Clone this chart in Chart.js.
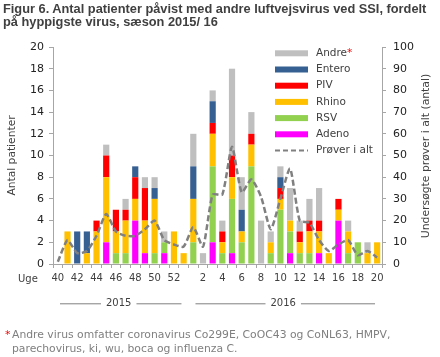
<!DOCTYPE html>
<html>
<head>
<meta charset="utf-8">
<script src="https://cdn.jsdelivr.net/npm/chart.js@4.4.1/dist/chart.umd.min.js"></script>
<style>
  html, body { margin: 0; padding: 0; background: #ffffff; }
  #wrap { position: relative; width: 440px; height: 357px; overflow: hidden; }
  #c { position: absolute; left: 0; top: 0; }
  #title { position: absolute; left: 3px; top: 2px; font-family: "Liberation Sans", Arial, sans-serif; font-weight: bold; font-size: 12.8px; line-height: 13.4px; color: #404040; white-space: nowrap; }
  #note { position: absolute; left: 12px; top: 328px; font-family: "DejaVu Sans", Verdana, sans-serif; font-size: 10.8px; line-height: 14.3px; color: #7f7f7f; white-space: nowrap; }
  #note .ast { position: absolute; left: -7px; top: 0; color: #ff0000; }
</style>
</head>
<body>
<div id="wrap">
  <canvas id="c" width="440" height="357"></canvas>
  <div id="title">Figur 6. Antal patienter påvist med andre luftvejsvirus ved SSI, fordelt<br>på hyppigste virus, sæson 2015/ 16</div>
  <div id="note"><span class="ast">*</span>Andre virus omfatter coronavirus Co299E, CoOC43 og CoNL63, HMPV,<br>parechovirus, ki, wu, boca og influenza C.</div>
</div>
<script>
// ---- data ----
const weeks    = [40,41,42,43,44,45,46,47,48,49,50,51,52,53, 1, 2, 3, 4, 5, 6, 7, 8, 9,10,11,12,13,14,15,16,17,18,19,20];
const weekYear = ['2015','2015','2015','2015','2015','2015','2015','2015','2015','2015','2015','2015','2015','2015',
                  '2016','2016','2016','2016','2016','2016','2016','2016','2016','2016','2016','2016','2016','2016','2016','2016','2016','2016','2016','2016'];
const adeno    = [0,0,0,0,0,2,0,0,4,1,0,1,0,0, 0,0,2,0,1,0,0,0,0,0,1,0,0,1,0,4,0,0,0,0];
const rsv      = [0,0,0,0,0,0,1,1,0,0,1,1,0,0, 2,0,7,1,5,2,9,0,1,5,2,1,1,0,0,0,1,2,0,0];
const rhino    = [0,3,0,1,3,6,2,3,2,3,5,0,3,1, 4,0,3,1,2,1,2,0,1,1,1,1,2,2,1,1,2,0,1,2];
const piv      = [0,0,0,0,1,2,2,1,2,3,0,0,0,0, 0,0,1,1,2,0,1,0,0,1,0,1,1,1,0,1,0,0,0,0];
const entero   = [0,0,3,2,0,0,0,0,1,0,1,0,0,0, 3,0,2,0,0,2,0,0,0,1,0,0,0,0,0,0,0,0,0,0];
const andre    = [0,0,0,0,0,1,0,1,0,1,1,1,0,0, 3,1,1,1,8,3,2,4,1,1,3,1,2,3,0,0,1,0,1,0];
const proever  = [1,11,5,6,13,23,15,13,13,16,20,11,9,8, 17,8,32,32,54,33,39,31,16,30,44,20,19,11,6,9,11,4,6,3];
const leftTitle  = 'Antal patienter';
const rightTitle = 'Undersøgte prøver i alt (antal)';
const xTitle     = 'Uge';

const FONT = "'DejaVu Sans', Verdana, sans-serif";
Chart.defaults.font.family = FONT;

const barDs = (label, data, color) => ({
  type: 'bar', label, data, backgroundColor: color, borderWidth: 0,
  barPercentage: 0.64, categoryPercentage: 1.0, yAxisID: 'y', order: 1
});

const datasets = [
  barDs('Adeno',  adeno,  '#ff00ff'),
  barDs('RSV',    rsv,    '#92d050'),
  barDs('Rhino',  rhino,  '#ffc000'),
  barDs('PIV',    piv,    '#ff0000'),
  barDs('Entero', entero, '#376092'),
  barDs('Andre',  andre,  '#bfbfbf'),
  { type: 'line', label: 'Prøver i alt', data: proever, yAxisID: 'y2',
    borderColor: '#808080', borderWidth: 2.5, borderDash: [6, 3], pointRadius: 0,
    tension: 0.2, fill: false, order: 0 }
];

const overlay = {
  id: 'overlay',
  afterDraw(chart) {
    const ctx = chart.ctx;
    const xs = chart.scales.x;
    ctx.save();
    // legend
    const bars = chart.data.datasets.filter(d => d.type === 'bar').slice().reverse();
    const lines = chart.data.datasets.filter(d => d.type === 'line');
    const items = bars.concat(lines);
    ctx.font = '10.5px ' + FONT;
    ctx.textBaseline = 'middle';
    ctx.textAlign = 'left';
    items.forEach((ds, k) => {
      const y = 53.3 + k * 16.2;
      if (ds.type === 'line') {
        ctx.strokeStyle = ds.borderColor; ctx.lineWidth = 2; ctx.setLineDash([5, 3]);
        ctx.beginPath(); ctx.moveTo(275, y); ctx.lineTo(308, y); ctx.stroke();
        ctx.setLineDash([]);
      } else {
        ctx.fillStyle = ds.backgroundColor; ctx.fillRect(275, y - 3, 33, 6);
      }
      ctx.fillStyle = '#404040';
      ctx.fillText(ds.label, 316, y);
      if (ds.label === 'Andre') {
        const w = ctx.measureText(ds.label).width;
        ctx.fillStyle = '#ff0000';
        ctx.fillText('*', 316 + w, y);
      }
    });
    // right axis title (reads bottom to top)
    ctx.save();
    ctx.font = '10.8px ' + FONT;
    ctx.fillStyle = '#404040';
    ctx.translate(426, 156);
    ctx.rotate(-Math.PI / 2);
    ctx.textAlign = 'center';
    ctx.textBaseline = 'middle';
    ctx.fillText(rightTitle, 0, 0);
    ctx.restore();
    // "Uge"
    ctx.font = '10px ' + FONT;
    ctx.fillStyle = '#404040';
    ctx.textAlign = 'left';
    ctx.textBaseline = 'middle';
    ctx.fillText(xTitle, 18, 279);
    // year groups
    const half = (xs.getPixelForValue(1) - xs.getPixelForValue(0)) / 2;
    const groups = [];
    weekYear.forEach((yr, i) => {
      const g = groups[groups.length - 1];
      if (g && g.yr === yr) g.last = i; else groups.push({ yr, first: i, last: i });
    });
    const yy = 303.3;
    groups.forEach(g => {
      const l = xs.getPixelForValue(g.first) - half + 7;
      const r = xs.getPixelForValue(g.last) + half - 7;
      const cx = (l + r) / 2 - 2;
      const tw = ctx.measureText(g.yr).width;
      ctx.fillStyle = '#404040';
      ctx.textAlign = 'center';
      ctx.fillText(g.yr, cx, yy);
      ctx.strokeStyle = '#808080'; ctx.lineWidth = 1;
      ctx.beginPath();
      ctx.moveTo(l, yy + 0.5); ctx.lineTo(cx - tw / 2 - 5, yy + 0.5);
      ctx.moveTo(cx + tw / 2 + 5, yy + 0.5); ctx.lineTo(r, yy + 0.5);
      ctx.stroke();
    });
    ctx.restore();
  }
};

new Chart(document.getElementById('c'), {
  data: { labels: weeks.map(String), datasets },
  options: {
    responsive: false,
    animation: false,
    events: [],
    layout: { padding: { top: 47, left: 0, right: 0, bottom: 0 } },
    plugins: { legend: { display: false }, tooltip: { enabled: false }, title: { display: false } },
    scales: {
      x: {
        type: 'category', stacked: true, offset: true,
        grid: { offset: true, drawOnChartArea: false, drawTicks: true, tickLength: 4, color: '#a6a6a6' },
        border: { color: '#a6a6a6' },
        ticks: {
          autoSkip: false, maxRotation: 0, minRotation: 0, padding: 4, color: '#404040',
          font: { size: 10 },
          callback: (v, i) => (weeks[i] % 2 === 0 ? String(weeks[i]) : '')
        },
        afterFit: s => { s.height = 357 - 264; }
      },
      y: {
        position: 'left', stacked: true, min: 0, max: 20,
        grid: { drawOnChartArea: false, drawTicks: true, tickLength: 4, color: '#a6a6a6' },
        border: { color: '#a6a6a6' },
        ticks: { stepSize: 2, padding: 5, color: '#222222', font: { size: 11 } },
        title: { display: true, text: leftTitle, color: '#404040', font: { size: 10.7 }, padding: { top: 6, bottom: 0 } },
        afterFit: s => { s.width = 53; }
      },
      y2: {
        position: 'right', min: 0, max: 100,
        grid: { drawOnChartArea: false, drawTicks: true, tickLength: 4, color: '#a6a6a6' },
        border: { color: '#a6a6a6' },
        ticks: { stepSize: 10, padding: 7, color: '#222222', font: { size: 11 } },
        afterFit: s => { s.width = 58; }
      }
    }
  },
  plugins: [overlay]
});
</script>
</body>
</html>
